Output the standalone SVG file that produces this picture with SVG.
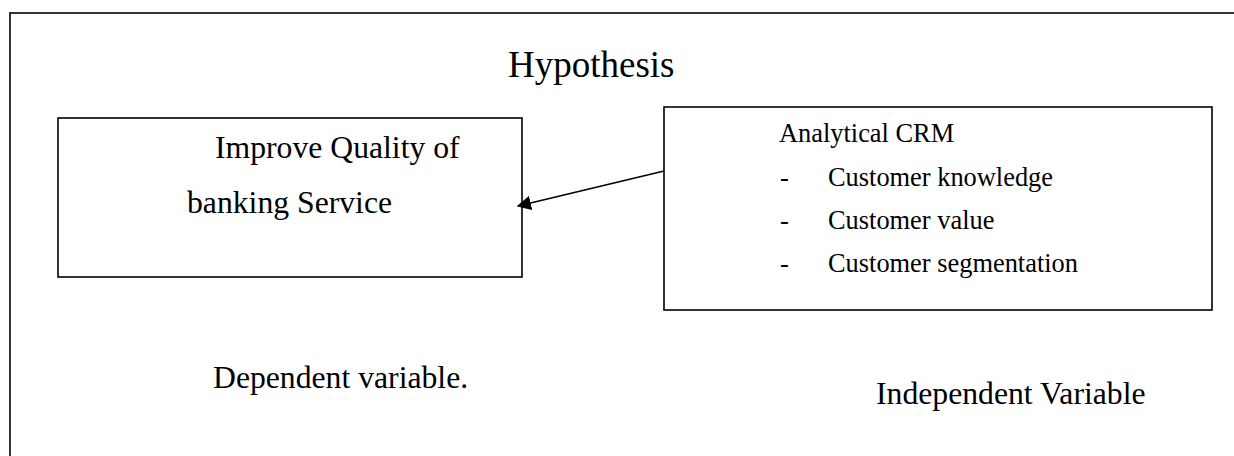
<svg xmlns="http://www.w3.org/2000/svg" width="1234" height="456" viewBox="0 0 1234 456">
<style>
.t{font-family:"Liberation Serif","Times New Roman",serif;fill:#000}
.b{font-size:31.7px}
.s{font-size:26.4px}
.h{font-size:37px}
.box{fill:#fff;stroke:#000;stroke-width:1.6}
.frame{fill:none;stroke:#000;stroke-width:1.6}
.conn{stroke:#000;stroke-width:1.6;fill:none}
</style>
<defs>
<marker id="arr" viewBox="0 0 10 10" refX="9" refY="5" markerWidth="9" markerHeight="9" markerUnits="strokeWidth" orient="auto">
<path d="M0,0 L10,5 L0,10 z" fill="#000"/>
</marker>
</defs>
<rect class="frame" x="10" y="13" width="1240" height="460"/>
<g id="title"><text class="t h" x="508" y="77">Hypothesis</text></g>
<g id="dependent">
<rect class="box" x="58" y="118" width="464" height="159"/>
<text class="t b" x="215" y="158">Improve Quality of</text>
<text class="t b" x="187" y="213">banking Service</text>
</g>
<g id="independent">
<rect class="box" x="664" y="107" width="548" height="203"/>
<text class="t s" x="779" y="142">Analytical CRM</text>
<text class="t s" x="780" y="186">-</text><text class="t s" x="828" y="186">Customer knowledge</text>
<text class="t s" x="780" y="229">-</text><text class="t s" x="828" y="229">Customer value</text>
<text class="t s" x="780" y="272">-</text><text class="t s" x="828" y="272">Customer segmentation</text>
</g>
<g id="connectors">
<line class="conn" x1="664" y1="171" x2="518" y2="206" marker-end="url(#arr)"/>
</g>
<g id="labels">
<text class="t b" x="213" y="388">Dependent variable.</text>
<text class="t b" x="876" y="404">Independent Variable</text>
</g>
</svg>
